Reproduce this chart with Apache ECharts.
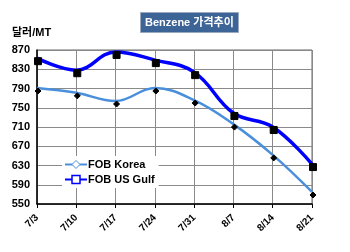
<!DOCTYPE html>
<html><head><meta charset="utf-8">
<script src="https://cdn.jsdelivr.net/npm/echarts@6/dist/echarts.min.js"></script>
<style>html,body{margin:0;padding:0;background:#fff}#c{width:350px;height:252px}</style>
</head><body><div id="c"></div>
<script>
const categories = ['7/3','7/10','7/17','7/24','7/31','8/7','8/14','8/21'];
const fobKorea = [791, 781, 764, 791, 766, 716, 652, 575];
const fobUSGulf = [853, 828, 866, 849, 824, 739, 710, 633];
const yTicks = {min: 550, max: 870, step: 40};
const titleText = 'Benzene 가격추이';
const unitText = '달러/MT';

const FONT = "Arial, 'Liberation Sans', 'Noto Sans CJK KR', sans-serif";
const chart = echarts.init(document.getElementById('c'), null, {renderer: 'canvas'});
chart.setOption({
  animation: false,
  backgroundColor: '#fff',
  title: {
    text: titleText, left: 140, top: 12,
    backgroundColor: '#3d6497', borderColor: '#9aa9c0', borderWidth: 1,
    padding: [5, 5, 5, 5],
    textStyle: {color: '#fff', fontSize: 11, fontWeight: 'bold', fontFamily: FONT}
  },
  graphic: [{type: 'text', left: 12, top: 27, style: {text: unitText, font: "bold 11px " + FONT, fill: '#000'}}],
  grid: {left: 37, right: 38, top: 50, bottom: 48, containLabel: false, show: true, borderColor: '#666', borderWidth: 1},
  legend: {
    orient: 'vertical', left: 62, top: 156, itemGap: 4, itemWidth: 22, itemHeight: 10,
    backgroundColor: '#fff', padding: [3, 4, 3, 2],
    textStyle: {fontSize: 11, fontWeight: 'bold', color: '#000', fontFamily: FONT, padding: [0, 0, 0, -4]},
    data: [
      {name: 'FOB Korea', itemStyle: {color: '#fff', borderColor: '#4a8fdb', borderWidth: 1}},
      {name: 'FOB US Gulf', itemStyle: {color: '#fff', borderColor: '#0000ff', borderWidth: 1.5}}
    ]
  },
  xAxis: {
    type: 'category', data: categories, boundaryGap: false,
    axisLine: {lineStyle: {color: '#000', width: 1.5}},
    axisTick: {show: true, alignWithLabel: true, length: 4, lineStyle: {color: '#000'}},
    axisLabel: {rotate: 45, fontSize: 10, fontWeight: 'bold', color: '#000', fontFamily: FONT, margin: 12},
    splitLine: {show: true, lineStyle: {color: '#8a8a8a', width: 1}}
  },
  yAxis: {
    type: 'value', min: yTicks.min, max: yTicks.max, interval: yTicks.step,
    axisLine: {show: true, lineStyle: {color: '#000', width: 1.5}},
    axisTick: {show: false},
    axisLabel: {fontSize: 11, fontWeight: 'bold', color: '#000', fontFamily: FONT, margin: 7},
    splitLine: {show: true, lineStyle: {color: '#8a8a8a', width: 1}}
  },
  series: [
    {
      name: 'FOB Korea', type: 'line', data: fobKorea, smooth: 0.4,
      symbol: 'diamond', symbolSize: 6, symbolOffset: [1, 3],
      lineStyle: {color: '#4a8fdb', width: 2.5},
      itemStyle: {color: '#000', borderColor: '#000'}, z: 3
    },
    {
      name: 'FOB US Gulf', type: 'line', data: fobUSGulf, smooth: 0.4,
      symbol: 'rect', symbolSize: 7, symbolOffset: [1, 3],
      lineStyle: {color: '#0000ff', width: 3.5},
      itemStyle: {color: '#000', borderColor: '#000'}, z: 4
    }
  ]
});
</script></body></html>
